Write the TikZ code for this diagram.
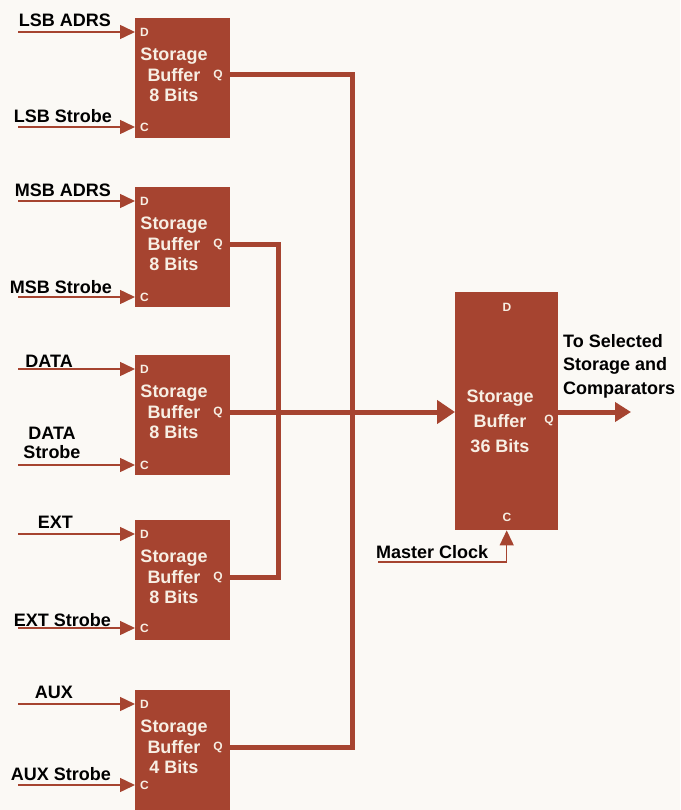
\documentclass[tikz,border=0pt]{standalone}
\usepackage{fontspec}
\setmainfont{Liberation Sans}
\usepackage{tikz}
\usetikzlibrary{arrows.meta, positioning, calc}
\definecolor{brick}{RGB}{166,68,48}
\definecolor{paper}{RGB}{251,249,245}
\definecolor{cream}{RGB}{247,239,228}

\begin{document}
\begin{tikzpicture}[
  x=1pt, y=-1pt,
  sbuf/.style={rectangle, fill=brick, draw=none, minimum width=95pt,
               minimum height=120pt, inner sep=0pt},
  sbtext/.style={text=cream, font=\bfseries\fontsize{18}{20.5}\selectfont,
                 align=center, inner sep=0pt},
  pinl/.style={text=cream, font=\bfseries\fontsize{12}{13}\selectfont, inner sep=0pt},
  lbl/.style={font=\bfseries\fontsize{18}{19}\selectfont, inner sep=0pt},
  inarr/.style={-{Triangle[length=15pt, width=14pt]}, brick, line width=1.5pt},
  bus/.style={brick, line width=5pt},
  busarr/.style={bus, -{Triangle[length=18pt, width=23pt]}},
]
  \useasboundingbox (0,0) rectangle (680,810);
  \fill[paper] (0,0) rectangle (680,810);

  % the five input buffers
  \foreach \n/\top/\bits/\cy in {1/18/8/109, 2/187/8/110, 3/355/8/110, 4/520/8/108, 5/690/4/95} {
    \node[sbuf, anchor=north west] (b\n) at (135,\top) {};
    \node[sbtext] (t\n) at (174,\top+57) {Storage\\Buffer\\\bits\ Bits};
    \node[pinl, anchor=west] (d\n) at (140,\top+14) {D};
    \node[pinl, anchor=west] (c\n) at (140,\top+\cy) {C};
    \node[pinl] (q\n) at (218,\top+57) {Q};
    \coordinate (ind\n) at (18,\top+14);
    \coordinate (inc\n) at (18,\top+\cy);
    \draw[inarr] (ind\n) -- (ind\n -| b\n.west);
    \draw[inarr] (inc\n) -- (inc\n -| b\n.west);
  }

  \node[lbl, anchor=base east] (l1d) at (111,27) {LSB ADRS};
  \node[lbl, anchor=base east] (l1c) at (112,123) {LSB Strobe};
  \node[lbl, anchor=base east] (l2d) at (111,197) {MSB ADRS};
  \node[lbl, anchor=base east] (l2c) at (112,293) {MSB Strobe};
  \node[lbl, anchor=base east] (l3d) at (73,367) {DATA};
  \node[lbl, anchor=north, align=center] (l3c) at (52,427) {DATA\\Strobe};
  \node[lbl, anchor=base east] (l4d) at (73,528) {EXT};
  \node[lbl, anchor=base east] (l4c) at (111,626) {EXT Strobe};
  \node[lbl, anchor=base east] (l5d) at (73,698) {AUX};
  \node[lbl, anchor=base east] (l5c) at (111,780) {AUX Strobe};

  % the 36 bit buffer
  \node[sbuf, anchor=north west, minimum width=103pt, minimum height=238pt] (main) at (455,292) {};
  \node[sbtext, font=\bfseries\fontsize{18}{25}\selectfont] (tmain) at (500,421) {Storage\\Buffer\\36 Bits};
  \node[pinl] (dmain) at (507,307) {D};
  \node[pinl] (cmain) at (507,517) {C};
  \node[pinl] (qmain) at (549,420) {Q};

  \coordinate (bus1) at (352,412);
  \coordinate (bus2) at (278,412);
  \draw[bus] (q1 -| b1.east) -| (bus1) |- (q5 -| b5.east);
  \draw[bus] (q2 -| b2.east) -| (bus2) |- (q4 -| b4.east);
  \draw[busarr] (q3 -| b3.east) -- (q3 -| main.west);

  \coordinate (out) at (631,412);
  \draw[busarr, -{Triangle[length=16pt, width=19pt]}] (out -| main.east) -- (out);
  \node[lbl, anchor=north west, align=left, font=\bfseries\fontsize{18}{23.5}\selectfont] (tout) at (563,334)
    {To Selected\\Storage and\\Comparators};

  \coordinate (mclk) at (378,562);
  \draw[inarr] (mclk) -| (main.south);
  \node[lbl, anchor=base west] (lmclk) at (376,558) {Master Clock};
\end{tikzpicture}
\end{document}
